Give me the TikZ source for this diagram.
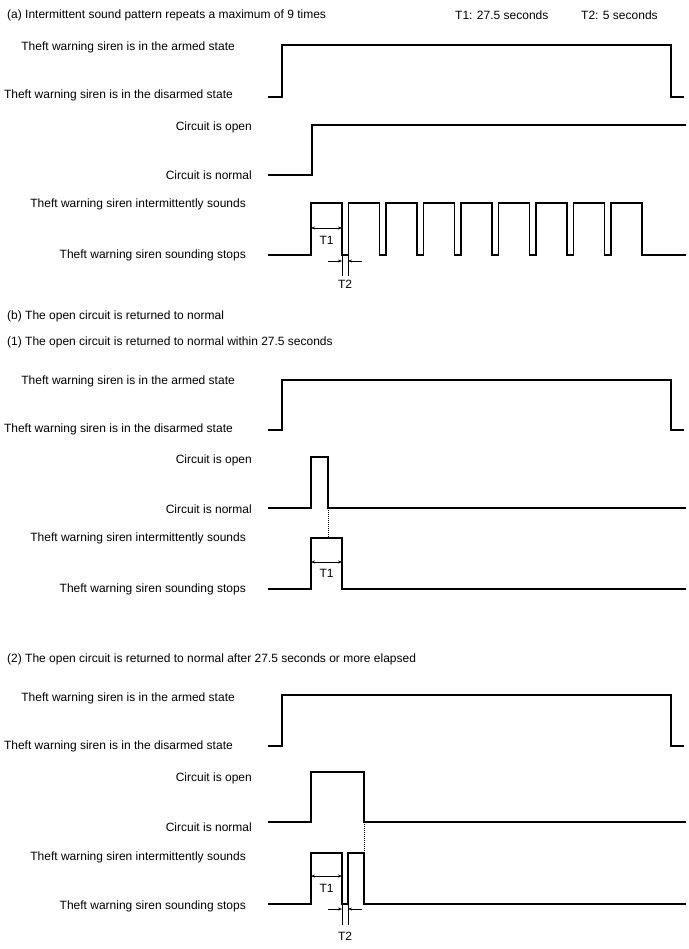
\documentclass[tikz,border=0pt]{standalone}
\usepackage{fontspec}
\setmainfont{Liberation Sans}
\usetikzlibrary{
  arrows.meta,
  positioning
}
\tikzset{
  lbl/.style={font=\fontsize{12}{14}\selectfont,inner sep=0pt,text=black},
  wave/.style={line width=1.1pt,line join=miter},
  dimline/.style={line width=0.5pt},
  dimarrow/.style={line width=0.5pt,-{Stealth[length=4pt,width=3pt]}},
  guide/.style={line width=1pt,dash pattern=on 1pt off 1pt}
}
% armed / disarmed trace: #1 high level, #2 low level
\newcommand{\armtrace}[2]{%
  \draw[wave] (268,#2) -- (282,#2) -- (282,#1) -- (671,#1) -- (671,#2) -- (684,#2);%
}
% T1 dimension: #1 level, #2 left, #3 right, #4 label level
\newcommand{\tonedim}[4]{%
  \draw[dimline,{Stealth[length=4pt,width=3pt]}-{Stealth[length=4pt,width=3pt]}] (#2,#1) -- (#3,#1);%
  \node[lbl] at ({(#2+#3)/2},#4) {T1};%
}
% T2 dimension: #1 low level, #2 arrow level, #3 label level
\newcommand{\ttwodim}[3]{%
  \draw[dimline] (342,#1) -- (342,#1+21) (348,#1) -- (348,#1+21);%
  \draw[dimarrow] (328,#2) -- (342,#2);%
  \draw[dimarrow] (362,#2) -- (348,#2);%
  \node[lbl] at (345,#3) {T2};%
}

\begin{document}
\begin{tikzpicture}[x=1pt,y=-1pt]
  \useasboundingbox (0,0) rectangle (688,949);

  % (a) intermittent sound pattern
  \node[lbl,anchor=west] (titleA) at (7,15) {(a) Intermittent sound pattern repeats a maximum of 9 times};
  \node[lbl,anchor=west] (tone) at (455,15) {T1: 27.5 seconds};
  \node[lbl,anchor=west] (ttwo) at (581,15) {T2: 5 seconds};

  \node[lbl,anchor=east] (armA) at (235,47) {Theft warning siren is in the armed state};
  \node[lbl,anchor=east] (disA) at (233,95) {Theft warning siren is in the disarmed state};
  \armtrace{45}{97}

  \node[lbl,anchor=east] (openA) at (252,127) {Circuit is open};
  \node[lbl,anchor=east] (normA) at (252,175) {Circuit is normal};
  \draw[wave] (268,175) -- (312,175) -- (312,125) -- (686,125);

  \node[lbl,anchor=east] (sndA) at (246,204) {Theft warning siren intermittently sounds};
  \node[lbl,anchor=east] (stpA) at (246,255) {Theft warning siren sounding stops};
  \draw[wave] (268,255) foreach \k in {0,...,8} {
    -- ({311+37.5*\k},255) -- ++(0,-52) -- ++(31,0) -- ++(0,52)
  } -- (686,255);
  \tonedim{228}{311}{342}{240}
  \ttwodim{255}{261}{284}

  % (b) open circuit returned to normal
  \node[lbl,anchor=west] (titleB) at (7,316) {(b) The open circuit is returned to normal};
  \node[lbl,anchor=west] (titleBa) at (7,342) {(1) The open circuit is returned to normal within 27.5 seconds};

  \node[lbl,anchor=east] (armB) at (235,381) {Theft warning siren is in the armed state};
  \node[lbl,anchor=east] (disB) at (233,429) {Theft warning siren is in the disarmed state};
  \armtrace{380}{430}

  \node[lbl,anchor=east] (openB) at (252,460) {Circuit is open};
  \node[lbl,anchor=east] (normB) at (252,509) {Circuit is normal};
  \draw[wave] (268,508) -- (311,508) -- (311,457) -- (328,457) -- (328,508) -- (686,508);
  \draw[guide] (328,508) -- (328,538);

  \node[lbl,anchor=east] (sndB) at (246,538) {Theft warning siren intermittently sounds};
  \node[lbl,anchor=east] (stpB) at (246,589) {Theft warning siren sounding stops};
  \draw[wave] (268,589) -- (311,589) -- (311,538) -- (342,538) -- (342,589) -- (686,589);
  \tonedim{562}{311}{342}{573}

  % (2) returned after T1
  \node[lbl,anchor=west] (titleBb) at (7,659) {(2) The open circuit is returned to normal after 27.5 seconds or more elapsed};

  \node[lbl,anchor=east] (armC) at (235,698) {Theft warning siren is in the armed state};
  \node[lbl,anchor=east] (disC) at (233,746) {Theft warning siren is in the disarmed state};
  \armtrace{695}{746}

  \node[lbl,anchor=east] (openC) at (252,778) {Circuit is open};
  \node[lbl,anchor=east] (normC) at (252,827) {Circuit is normal};
  \draw[wave] (268,822) -- (311,822) -- (311,772) -- (364,772) -- (364,822) -- (686,822);
  \draw[guide] (364,822) -- (364,853);

  \node[lbl,anchor=east] (sndC) at (246,857) {Theft warning siren intermittently sounds};
  \node[lbl,anchor=east] (stpC) at (246,906) {Theft warning siren sounding stops};
  \draw[wave] (268,904) -- (311,904) -- (311,853) -- (342,853) -- (342,904)
    -- (348,904) -- (348,853) -- (364,853) -- (364,904) -- (686,904);
  \tonedim{876}{311}{342}{888}
  \ttwodim{904}{909}{936}

\end{tikzpicture}
\end{document}
